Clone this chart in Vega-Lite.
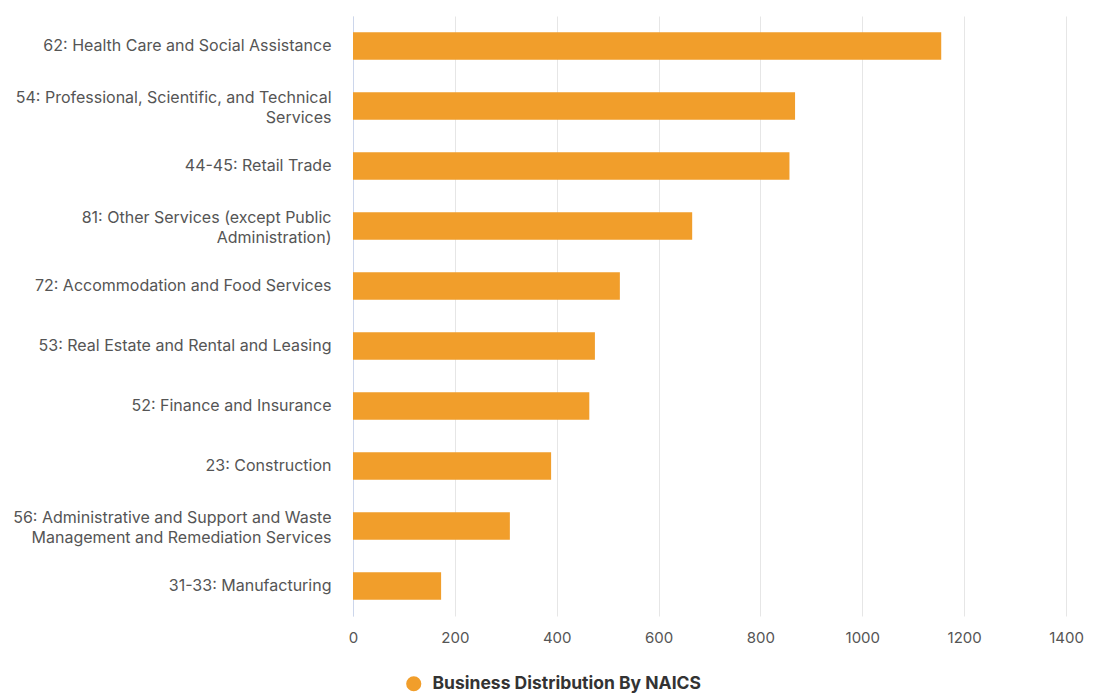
{
  "$schema": "https://vega.github.io/schema/vega-lite/v6.json",
  "width": 713,
  "height": 600,
  "autosize": {"type": "none"},
  "padding": {"left": 353, "top": 16, "right": 38, "bottom": 78},
  "background": "#ffffff",
  "config": {
    "view": {"stroke": null},
    "font": "Inter"
  },
  "data": {
    "values": [
      {"industry": "62: Health Care and Social Assistance", "count": 1155, "series": "Business Distribution By NAICS"},
      {"industry": "54: Professional, Scientific, and Technical|Services", "count": 868, "series": "Business Distribution By NAICS"},
      {"industry": "44-45: Retail Trade", "count": 857, "series": "Business Distribution By NAICS"},
      {"industry": "81: Other Services (except Public|Administration)", "count": 666, "series": "Business Distribution By NAICS"},
      {"industry": "72: Accommodation and Food Services", "count": 524, "series": "Business Distribution By NAICS"},
      {"industry": "53: Real Estate and Rental and Leasing", "count": 475, "series": "Business Distribution By NAICS"},
      {"industry": "52: Finance and Insurance", "count": 464, "series": "Business Distribution By NAICS"},
      {"industry": "23: Construction", "count": 389, "series": "Business Distribution By NAICS"},
      {"industry": "56: Administrative and Support and Waste|Management and Remediation Services", "count": 308, "series": "Business Distribution By NAICS"},
      {"industry": "31-33: Manufacturing", "count": 173, "series": "Business Distribution By NAICS"}
    ]
  },
  "mark": {"type": "bar"},
  "encoding": {
    "y": {
      "field": "industry",
      "type": "nominal",
      "sort": null,
      "scale": {"paddingInner": 0.54, "paddingOuter": 0.27},
      "axis": {
        "title": null,
        "labelExpr": "split(datum.label, '|')",
        "labelFont": "Inter",
        "labelFontSize": 16,
        "labelColor": "#555555",
        "labelPadding": 22,
        "labelLimit": 400,
        "labelLineHeight": 20,
        "labelOffset": {"condition": {"test": "indexof(datum.value, '|') >= 0", "value": -8}, "value": 0},
        "ticks": false,
        "domainColor": "#ccd6eb",
        "domainWidth": 1,
        "grid": false
      }
    },
    "x": {
      "field": "count",
      "type": "quantitative",
      "scale": {"domain": [0, 1400], "nice": false},
      "axis": {
        "title": null,
        "values": [0, 200, 400, 600, 800, 1000, 1200, 1400],
        "format": "d",
        "labelFlush": false,
        "labelFont": "Inter",
        "labelFontSize": 15,
        "labelColor": "#555555",
        "labelPadding": 14,
        "ticks": false,
        "domain": false,
        "grid": true,
        "gridColor": "#e6e6e6",
        "gridWidth": 1
      }
    },
    "color": {
      "field": "series",
      "type": "nominal",
      "scale": {"range": ["#f19e2b"]},
      "legend": {
        "title": null,
        "orient": "none",
        "legendX": 52,
        "legendY": 659,
        "symbolType": "circle",
        "symbolSize": 230,
        "symbolStrokeWidth": 0,
        "labelFont": "Inter",
        "labelFontSize": 17.5,
        "labelFontWeight": "bold",
        "labelColor": "#333333",
        "labelOffset": 10,
        "labelLimit": 400
      }
    }
  }
}
